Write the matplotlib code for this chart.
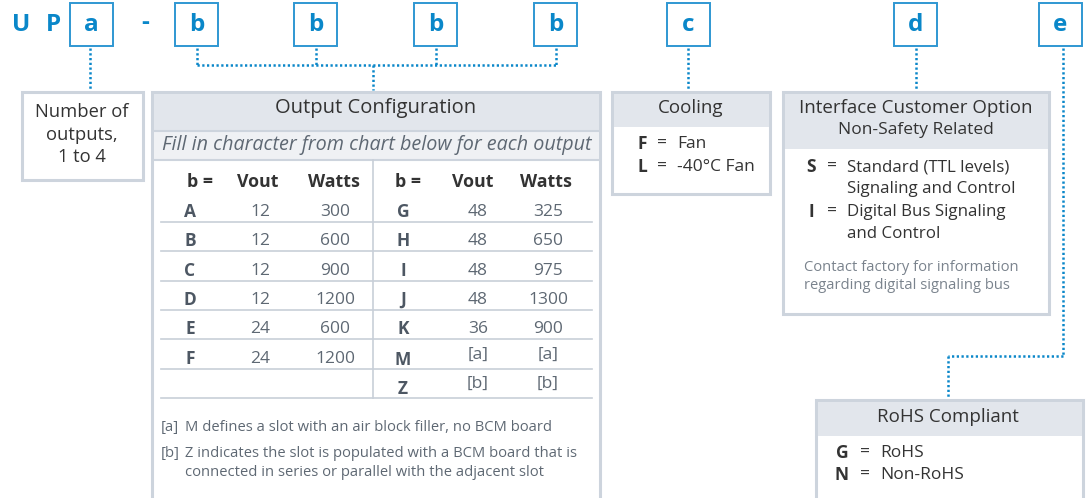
import matplotlib
matplotlib.use("Agg")
import matplotlib.pyplot as plt
from matplotlib.patches import Rectangle

# ---------------- data ----------------
prefix_letters = ["U", "P"]
code_boxes = ["a", "b", "b", "b", "b", "c", "d", "e"]

number_text = ["Number of", "outputs,", "1 to 4"]

out_title = "Output Configuration"
out_subtitle = "Fill in character from chart below for each output"
col_headers = ["b =", "Vout", "Watts"]

codes_left = ["A", "B", "C", "D", "E", "F"]
vout_left = ["12", "12", "12", "12", "24", "24"]
watts_left = ["300", "600", "900", "1200", "600", "1200"]

codes_right = ["G", "H", "I", "J", "K", "M", "Z"]
vout_right = ["48", "48", "48", "48", "36", "[a]", "[b]"]
watts_right = ["325", "650", "975", "1300", "900", "[a]", "[b]"]

footnotes = [("[a]", ["M defines a slot with an air block filler, no BCM board"]),
             ("[b]", ["Z indicates the slot is populated with a BCM board that is",
                      "connected in series or parallel with the adjacent slot"])]

cooling_title = "Cooling"
cooling_codes = ["F", "L"]
cooling_desc = ["Fan", "-40°C Fan"]

iface_title = ["Interface Customer Option", "Non-Safety Related"]
iface_codes = ["S", "I"]
iface_desc = [["Standard (TTL levels)", "Signaling and Control"],
              ["Digital Bus Signaling", "and Control"]]
iface_note = ["Contact factory for information", "regarding digital signaling bus"]

rohs_title = "RoHS Compliant"
rohs_codes = ["G", "N"]
rohs_desc = ["RoHS", "Non-RoHS"]

# ---------------- style ----------------
BLUE = "#0a87c9"
BOXBLUE = "#2f97d2"
BORDER = "#cdd4dd"
HEAD = "#e2e6ec"
SUB = "#eff1f4"
DARK = "#333333"
GREY = "#5e6873"
LGREY = "#7a838d"
LINE = "#c8cfd8"
FONT = "Open Sans"

fig = plt.figure(figsize=(10.89, 4.98), dpi=100)
ax = fig.add_axes([0, 0, 1, 1])
ax.set_xlim(0, 1089)
ax.set_ylim(498, 0)
ax.axis("off")


def txt(x, y, s, size=12, color=DARK, weight="normal", ha="center", style="normal", va="center"):
    ax.text(x, y, s, fontsize=size, color=color, fontweight=weight, ha=ha, va=va,
            family=FONT, fontstyle=style)


def dotted(xs, ys):
    ax.plot(xs, ys, color=BLUE, lw=1.8, linestyle=(0, (0.9, 1.0)), solid_capstyle="butt")


def grey_box(x0, y0, x1, y1, head_h):
    ax.add_patch(Rectangle((x0, y0), x1 - x0, y1 - y0, facecolor="white",
                           edgecolor=BORDER, lw=2.2, zorder=1))
    if head_h:
        ax.add_patch(Rectangle((x0 + 1.5, y0 + 1.5), x1 - x0 - 3, head_h, facecolor=HEAD,
                               edgecolor="none", zorder=1.1))


# ---------------- top code row ----------------
for x, s in zip([21, 53], prefix_letters):
    txt(x, 25, s, size=17.5, color=BLUE, weight="bold")
txt(145, 23, "-", size=17.5, color=BLUE, weight="bold")

box_left = [70, 175, 294, 414, 534, 667, 894, 1039]
bw, by0, by1 = 43, 3, 46
for xl, s in zip(box_left, code_boxes):
    ax.add_patch(Rectangle((xl, by0), bw, by1 - by0, facecolor="white",
                           edgecolor=BOXBLUE, lw=1.4, zorder=2))
    txt(xl + bw / 2, 25, s, size=17.5, color=BLUE, weight="bold")

# connectors
dotted([90, 90], [48, 89])
bx = [197, 316, 436, 556]
for x in bx:
    dotted([x, x], [48, 65])
dotted([bx[0], bx[-1]], [65, 65])
dotted([373, 373], [65, 90])
dotted([688, 688], [48, 90])
dotted([916, 916], [48, 90])
dotted([1063, 1063], [48, 356])
dotted([1063, 948], [356, 356])
dotted([948, 948], [356, 398])

# ---------------- number of outputs ----------------
grey_box(22, 92, 143, 180, 0)
for y, s in zip([112, 135, 157], number_text):
    txt(82, y, s, size=13.2)

# ---------------- output configuration ----------------
grey_box(152, 92, 600, 520, 38)
ax.add_patch(Rectangle((153.5, 132), 445, 28, facecolor=SUB, edgecolor="none", zorder=1.1))
ax.plot([153, 599], [131, 131], color=BORDER, lw=1.5, zorder=1.2)
ax.plot([153, 599], [160, 160], color=BORDER, lw=1.5, zorder=1.2)
txt(376, 108, out_title, size=14.5)
txt(377, 145, out_subtitle, size=14.2, color=GREY, style="italic")

lx = [200, 258, 334]
rx = [408, 473, 546]
for xs in (lx, rx):
    for x, s in zip(xs, col_headers):
        txt(x, 182, s, size=12.8, weight="bold")

row_y0, row_h = 222, 29.3
ax.plot([373, 373], [160, 398], color=LINE, lw=1.2, zorder=1.2)
for i in range(7):
    yl = row_y0 + row_h * i
    ax.plot([161, 592], [yl, yl], color=LINE, lw=1.2, zorder=1.2)

for i, (c, v, w) in enumerate(zip(codes_left, vout_left, watts_left)):
    y = row_y0 + row_h * i - 10
    txt(190, y, c, size=12.5, color="#4d5763", weight="bold")
    txt(260, y, v, size=12.5, color=GREY)
    txt(335, y, w, size=12.5, color=GREY)
for i, (c, v, w) in enumerate(zip(codes_right, vout_right, watts_right)):
    y = row_y0 + row_h * i - 10
    dy = -4 if v.startswith("[") else 0
    txt(403, y + (1 if v.startswith("[") else 0), c, size=12.5, color="#4d5763", weight="bold")
    txt(478, y + dy, v, size=12.5, color=GREY)
    txt(548, y + dy, w, size=12.5, color=GREY)

fy = [427, 453]
for (tag, lines), y in zip(footnotes, fy):
    txt(161, y, tag, size=10.6, color=GREY, ha="left")
    for j, s in enumerate(lines):
        txt(185, y + 19 * j, s, size=10.6, color=GREY, ha="left")

# ---------------- cooling ----------------
grey_box(612, 92, 770, 194, 33)
txt(691, 108, cooling_title, size=13.5)
for i, (c, d) in enumerate(zip(cooling_codes, cooling_desc)):
    y = 144 + 23 * i
    txt(642, y, c, size=12.5, weight="bold")
    txt(662, y, "=", size=12.5)
    txt(677, y, d, size=12.5, ha="left")

# ---------------- interface ----------------
grey_box(783, 92, 1049, 314, 55)
txt(916, 108, iface_title[0], size=13.5)
txt(916, 130, iface_title[1], size=12.5)
yy = 167
for c, lines in zip(iface_codes, iface_desc):
    txt(811, yy, c, size=12.5, weight="bold")
    txt(832, yy, "=", size=12.5)
    for s in lines:
        txt(847, yy, s, size=12.2, ha="left")
        yy += 22.3
txt(804, 267, iface_note[0], size=10.6, color=LGREY, ha="left")
txt(804, 285, iface_note[1], size=10.6, color=LGREY, ha="left")

# ---------------- RoHS ----------------
grey_box(816, 400, 1083, 520, 34)
txt(948, 417, rohs_title, size=13.5)
for i, (c, d) in enumerate(zip(rohs_codes, rohs_desc)):
    y = 453 + 22 * i
    txt(842, y, c, size=12.5, weight="bold")
    txt(865, y, "=", size=12.5)
    txt(880, y, d, size=12.5, ha="left")

fig.savefig("out.png", dpi=100)
